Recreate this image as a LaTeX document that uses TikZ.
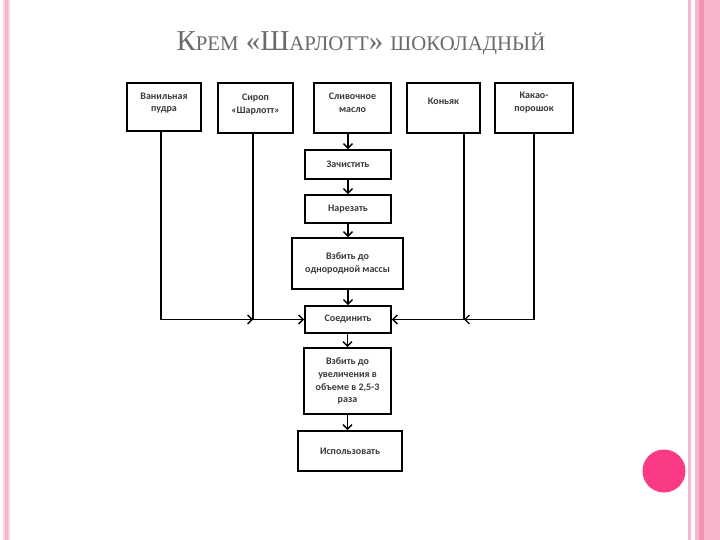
\documentclass[tikz,border=0pt]{standalone}
\usepackage{fontspec}
\setmainfont{Liberation Serif}
\newfontfamily\boxfont{Carlito}
\usetikzlibrary{arrows.meta}
\definecolor{pinkA}{HTML}{F8B6CB}
\definecolor{pinkB}{HTML}{F092B2}
\definecolor{pinkC}{HTML}{FBD3E0}
\definecolor{hotpink}{HTML}{FA3A85}
\definecolor{titlegray}{HTML}{6A6A6A}
\definecolor{boxtext}{HTML}{3A3A3A}
\newcommand\mysmc[1]{{\fontsize{20.8}{21}\selectfont #1}}
\begin{document}
\begin{tikzpicture}[x=1pt,y=-1pt,
  box/.style={draw=black, line width=1.8pt, fill=white, inner sep=0pt, align=center,
    font=\boxfont\bfseries\fontsize{10}{12.8}\selectfont, text=boxtext},
  lbl/.style={align=center, font=\boxfont\bfseries\fontsize{10}{12.8}\selectfont, text=boxtext},
  conn/.style={line width=1.6pt},
  arr/.style={conn, -{Straight Barb[length=4.5pt,width=9pt,line width=1.4pt]}}
]
\useasboundingbox (0,0) rectangle (720,540);
\fill[white] (0,0) rectangle (720,540);
% decorative stripes
\fill[pinkC] (2.5,0) rectangle (9.5,540);
\fill[pinkA] (4.5,0) rectangle (8,540);
\fill[pinkA] (688,0) rectangle (690.5,540);
\fill[pinkA] (695,0) rectangle (720,540);
\fill[pinkB] (699,0) rectangle (703.5,540);
\fill[hotpink] (664,471) circle (21.5);
% title
\node[anchor=base, text=titlegray, font=\fontsize{28.8}{30}\selectfont] (title) at (361,51)
  {К\mysmc{РЕМ} «Ш\mysmc{АРЛОТТ}» \mysmc{ШОКОЛАДНЫЙ}};
% top boxes
\node[box, minimum width=74pt, minimum height=48pt] (van) at (164,107) {};
\node[box, minimum width=75pt, minimum height=50pt] (sir) at (255.5,108) {};
\node[box, minimum width=77pt, minimum height=50pt] (sliv) at (352.5,108) {};
\node[box, minimum width=73pt, minimum height=50pt] (kon) at (443.5,108) {};
\node[box, minimum width=78pt, minimum height=50pt] (kak) at (534,108) {};
\node[lbl] (vanl) at ([yshift=4pt]van.center) {Ванильная\\пудра};
\node[lbl] (sirl) at ([yshift=3.5pt]sir.center) {Сироп\\«Шарлотт»};
\node[lbl] (slivl) at ([yshift=5.5pt]sliv.center) {Сливочное\\масло};
\node[lbl] (konl) at ([yshift=7pt]kon.center) {Коньяк};
\node[lbl] (kakl) at ([yshift=5.5pt]kak.center) {Какао-\\порошок};
% centre column
\node[box, minimum width=86pt, minimum height=29pt] (zach) at (348,164.5) {Зачистить};
\node[box, minimum width=86pt, minimum height=28pt] (nar) at (348,209) {Нарезать};
\node[box, minimum width=111pt, minimum height=51pt] (vzb1) at (347.5,263.5) {Взбить до\\однородной массы};
\node[box, minimum width=86pt, minimum height=27pt] (join) at (348,319.5) {Соединить};
\node[box, minimum width=87pt, minimum height=66pt] (vzb2) at (347.5,381) {Взбить до\\увеличения в\\объеме в 2,5-3\\раза};
\node[box, minimum width=104pt, minimum height=40pt] (isp) at (350,451) {Использовать};
% connectors
\draw[arr] (sliv.south -| zach.north) -- (zach.north);
\draw[arr] (zach) -- (nar);
\draw[arr] (nar.south) -- (nar.south |- vzb1.north);
\draw[arr] (vzb1.south -| join.north) -- (join.north);
\draw[arr] (join.south -| vzb2.north) -- (vzb2.north);
\draw[arr] (vzb2.south) -- (vzb2.south |- isp.north);
\coordinate (j1) at (253,319.5);
\coordinate (j2) at (464,319.5);
\draw[arr] ([xshift=-3pt]van.south) |- (j1);
\draw[arr] (sir.south -| j1) -- (j1) -- (join.west);
\draw[arr] (kak.south) |- (j2);
\draw[arr] (kon.south -| j2) -- (j2) -- (join.east);
\end{tikzpicture}
\end{document}
